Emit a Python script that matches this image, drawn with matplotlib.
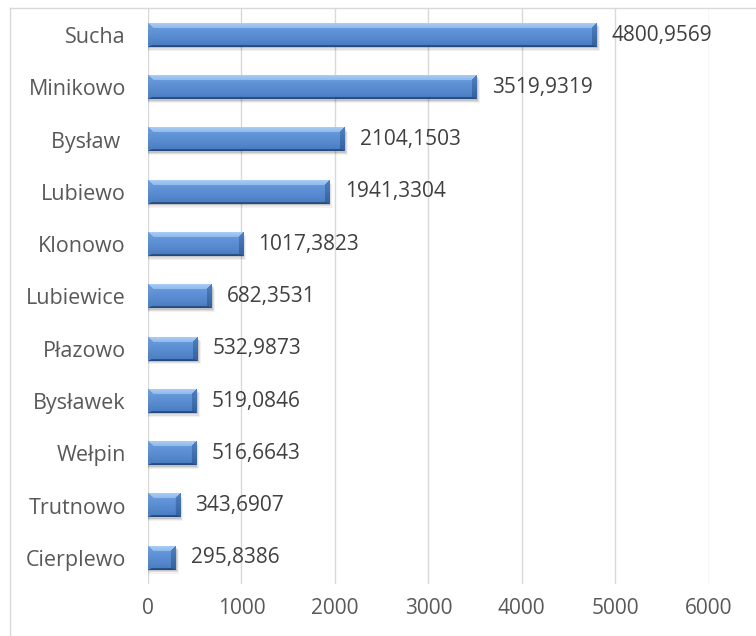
import numpy as np
import matplotlib
matplotlib.use("Agg")
import matplotlib.pyplot as plt
from matplotlib.colors import to_rgb
from matplotlib.lines import Line2D

names = ["Sucha", "Minikowo", "Bysław ", "Lubiewo", "Klonowo", "Lubiewice",
         "Płazowo", "Bysławek", "Wełpin", "Trutnowo", "Cierplewo"]
values = [4800.9569, 3519.9319, 2104.1503, 1941.3304, 1017.3823, 682.3531,
          532.9873, 519.0846, 516.6643, 343.6907, 295.8386]
labels = ["4800,9569", "3519,9319", "2104,1503", "1941,3304", "1017,3823", "682,3531",
          "532,9873", "519,0846", "516,6643", "343,6907", "295,8386"]
xticks = [0, 1000, 2000, 3000, 4000, 5000, 6000]

plt.rcParams['font.family'] = ['Open Sans', 'DejaVu Sans']

W, H, DPI = 756, 636, 100
fig = plt.figure(figsize=(W / DPI, H / DPI), dpi=DPI)
ax = fig.add_axes([148 / W, 1 - 584 / H, (708.7 - 148) / W, (584 - 9) / H])

bar_h = 0.45


def mix(stops, t):
    pos = np.array([s[0] for s in stops])
    cols = np.array([to_rgb(s[1]) for s in stops])
    return np.stack([np.interp(t, pos, cols[:, k]) for k in range(3)], axis=-1)


def bevel_image(wpx, hpx, bx=5.5, by_top=5.0, by_bot=2.5):
    X, Y = np.meshgrid(np.arange(wpx) + 0.5, np.arange(hpx) + 0.5)
    t = Y / hpx
    img = mix([(0, '#74a3e0'), (0.35, '#5f92d6'), (0.75, '#5385cb'),
               (1, '#4679bd')], t)
    d = np.stack([Y / by_top, (hpx - Y) / by_bot, X / bx, (wpx - X) / bx])
    side = np.argmin(d, axis=0)
    inside = d.min(axis=0) < 1
    top = mix([(0, '#a9cdf5'), (0.2, '#8fbbee')], t)
    bot = mix([(0.85, '#34609c'), (1, '#24477a')], t)
    left = mix([(0, '#6c9cdb'), (1, '#46789f')], t)
    left = mix([(0, '#6f9fdc'), (1, '#4a7cbf')], t)
    right = mix([(0, '#4f80c2'), (1, '#33619d')], t)
    for k, c in enumerate([top, bot, left, right]):
        m = inside & (side == k)
        img[m] = c[m]
    return img


ax.set_xlim(0, 6000)
ax.set_ylim(len(names) - 0.5, -0.5)
px_per_x = ax.bbox.width / 6000
px_per_y = ax.bbox.height / len(names)

y = np.arange(len(names))
# soft shadow under the bars
for k, a in enumerate([0.12, 0.08, 0.05]):
    off = (1.5 + 1.2 * k) / px_per_y
    ax.barh(y + off, [v + (1 + k) / px_per_x for v in values], height=bar_h, left=0,
            color='black', alpha=a, linewidth=0, zorder=2)

for yi, v in zip(y, values):
    img = bevel_image(max(int(round(v * px_per_x)), 12), int(round(bar_h * px_per_y)))
    ax.imshow(img, extent=(0, v, yi + bar_h / 2, yi - bar_h / 2), aspect='auto',
              interpolation='bilinear', origin='upper', zorder=3)

ax.set_xlim(0, 6000)
ax.set_ylim(len(names) - 0.5, -0.5)

for yi, v, lab in zip(y, values, labels):
    ax.annotate(lab, (v, yi), xytext=(11, 0), textcoords='offset points',
                va='center', ha='left', fontsize=15, color='#404040')

ax.set_yticks(y)
ax.set_yticklabels(names)
ax.set_xticks(xticks)
ax.set_xticklabels([str(t) for t in xticks])
ax.tick_params(axis='both', length=0, labelsize=15, labelcolor='#595959')
ax.tick_params(axis='y', pad=16, labelsize=15.5)
ax.tick_params(axis='x', pad=10)
ax.grid(axis='x', color='#d9d9d9', linewidth=1.0, zorder=0)
ax.set_axisbelow(True)
for s in ax.spines.values():
    s.set_visible(False)

# chart area border (left and top edges visible)
fig.add_artist(Line2D([10 / W, 10 / W], [0, 1 - 8 / H], transform=fig.transFigure,
                      color='#d9d9d9', linewidth=1.0))
fig.add_artist(Line2D([10 / W, 1], [1 - 8 / H, 1 - 8 / H], transform=fig.transFigure,
                      color='#d9d9d9', linewidth=1.0))

fig.savefig("out.png", dpi=DPI)
